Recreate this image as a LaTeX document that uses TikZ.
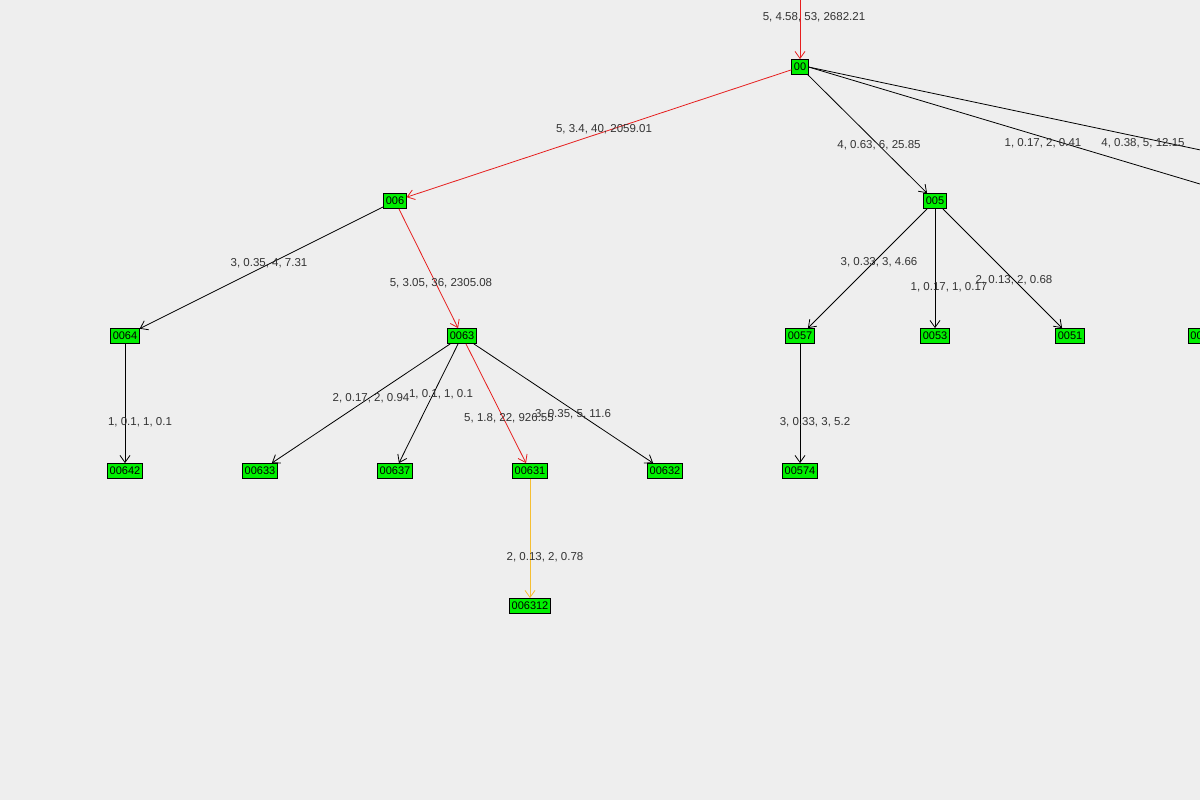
\documentclass[tikz,border=0pt]{standalone}
\usepackage{fontspec}
\setmainfont{Liberation Sans}
\usetikzlibrary{arrows.meta}
\definecolor{bg}{RGB}{238,238,238}
\definecolor{ngreen}{RGB}{0,240,0}
\definecolor{ered}{RGB}{230,30,30}
\definecolor{eyel}{RGB}{245,190,50}
\begin{document}
\begin{tikzpicture}[x=1pt,y=-1pt,
  nd/.style={draw=black,fill=ngreen,inner xsep=2pt,inner ysep=0pt,minimum height=15pt,line width=0.8pt,font=\fontsize{11}{11}\selectfont},
  lb/.style={font=\fontsize{11.5}{12}\selectfont,text=black!80,inner sep=0pt},
  ed/.style={-{Straight Barb[length=7pt,width=10pt]},line width=0.8pt},
  red/.style={ed,draw=ered},
  yel/.style={ed,draw=eyel}]
\fill[bg] (0,0) rectangle (1200,800);
\clip (0,0) rectangle (1200,800);
\coordinate (top) at (800,-5);
\coordinate (r1) at (1210,152);
\coordinate (r2) at (1210,187);
\node[nd] (n00) at (800,67) {00};
\node[nd] (n006) at (395,201) {006};
\node[nd] (n005) at (935,201) {005};
\node[nd] (n0064) at (125,336) {0064};
\node[nd] (n0063) at (462,336) {0063};
\node[nd] (n0057) at (800,336) {0057};
\node[nd] (n0053) at (935,336) {0053};
\node[nd] (n0051) at (1070,336) {0051};
\node[nd,anchor=west] (n00x) at (1188,336) {0058};
\node[nd] (n00642) at (125,471) {00642};
\node[nd] (n00633) at (260,471) {00633};
\node[nd] (n00637) at (395,471) {00637};
\node[nd] (n00631) at (530,471) {00631};
\node[nd] (n00632) at (665,471) {00632};
\node[nd] (n00574) at (800,471) {00574};
\node[nd] (n006312) at (530,606) {006312};
\draw[red] (top) -- (n00);
\draw[red] (n00) -- (n006);
\draw[ed] (n00) -- (n005);
\draw[line width=0.8pt] (n00.east) -- (r1);
\draw[line width=0.8pt] (n00.east) -- (r2);
\draw[ed] (n006) -- (n0064);
\draw[red] (n006) -- (n0063);
\draw[ed] (n005) -- (n0057);
\draw[ed] (n005) -- (n0053);
\draw[ed] (n005) -- (n0051);
\draw[ed] (n0064) -- (n00642);
\draw[ed] (n0063) -- (n00633);
\draw[ed] (n0063) -- (n00637);
\draw[red] (n0063) -- (n00631);
\draw[ed] (n0063) -- (n00632);
\draw[ed] (n0057) -- (n00574);
\draw[yel] (n00631) -- (n006312);
\node[lb] (l1) at (814,17) {5, 4.58, 53, 2682.21};
\node[lb] (l2) at (604,129) {5, 3.4, 40, 2059.01};
\node[lb] (l3) at (879,145) {4, 0.63, 6, 25.85};
\node[lb] (l4) at (1043,143) {1, 0.17, 2, 0.41};
\node[lb] (l5) at (1143,143) {4, 0.38, 5, 12.15};
\node[lb] (l6) at (269,263) {3, 0.35, 4, 7.31};
\node[lb] (l7) at (441,283) {5, 3.05, 36, 2305.08};
\node[lb] (l8) at (879,262) {3, 0.33, 3, 4.66};
\node[lb] (l9) at (949,287) {1, 0.17, 1, 0.17};
\node[lb] (l10) at (1014,280) {2, 0.13, 2, 0.68};
\node[lb] (l11) at (371,398) {2, 0.17, 2, 0.94};
\node[lb] (l12) at (441,394) {1, 0.1, 1, 0.1};
\node[lb] (l13) at (509,418) {5, 1.8, 22, 926.55};
\node[lb] (l14) at (573,414) {3, 0.35, 5, 11.6};
\node[lb] (l15) at (140,422) {1, 0.1, 1, 0.1};
\node[lb] (l16) at (815,422) {3, 0.33, 3, 5.2};
\node[lb] (l17) at (545,557) {2, 0.13, 2, 0.78};
\end{tikzpicture}
\end{document}
